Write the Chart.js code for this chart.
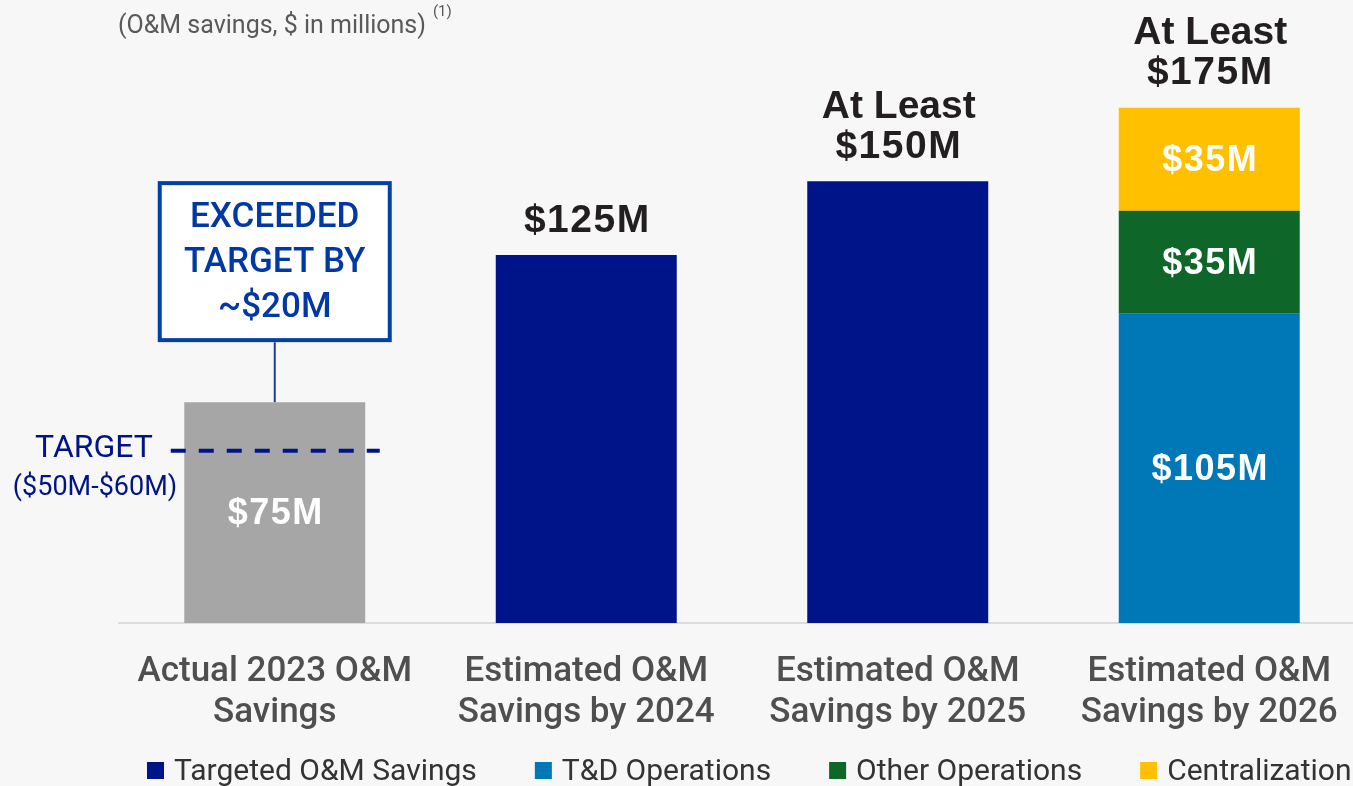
<!DOCTYPE html>
<html><head><meta charset="utf-8">
<script src="https://cdn.jsdelivr.net/npm/chart.js@4.4.1/dist/chart.umd.min.js"></script>
<style>
html,body{margin:0;padding:0;background:#f7f7f7;overflow:hidden;width:1353px;height:786px;}
#wrap{position:absolute;left:0;top:0;width:1370px;height:786px;}
canvas{display:block;}
</style></head><body>
<div id="wrap"><canvas id="c" width="1370" height="786"></canvas></div>
<script>
// ---- data ----
const categories = [["Actual 2023 O&M","Savings"],["Estimated O&M","Savings by 2024"],["Estimated O&M","Savings by 2025"],["Estimated O&M","Savings by 2026"]];
const actualSavings   = [75, null, null, null];
const targetedSavings = [null, 125, 150, null];
const tdOperations    = [null, null, null, 105];
const otherOperations = [null, null, null, 35];
const centralization  = [null, null, null, 35];
const totalLabels = [null, ["$125M"], ["At Least","$150M"], ["At Least","$175M"]];
const targetValue = 58.5;           // dashed target marker (range $50M-$60M)
const targetLabels = ["TARGET", "($50M-$60M)"];
const calloutLines = ["EXCEEDED", "TARGET BY", "~$20M"];
const subtitle = "(O&M savings, $ in millions)";
const yMax = 200;

const FONT_SANS = '"Liberation Sans", Arial, sans-serif';
const FONT_UI = 'Roboto, "Liberation Sans", sans-serif';

const annot = {
  id: 'annot',
  afterDatasetsDraw(chart) {
    const ctx = chart.ctx, xs = chart.scales.x, ys = chart.scales.y;
    ctx.save();
    // inside value labels
    chart.data.datasets.forEach((ds, i) => {
      if (!ds.insideLabel) return;
      const meta = chart.getDatasetMeta(i);
      meta.data.forEach((el, j) => {
        const v = ds.data[j];
        if (v == null) return;
        ctx.fillStyle = '#ffffff';
        ctx.font = 'bold 36px ' + FONT_SANS;
        ctx.letterSpacing = '1.5px';
        ctx.textAlign = 'center';
        ctx.textBaseline = 'middle';
        ctx.fillText('$' + v + 'M', el.x + 1, (el.y + el.base) / 2 + 2);
      });
    });
    // total labels above bars
    categories.forEach((c, j) => {
      const lines = totalLabels[j];
      if (!lines) return;
      let sum = 0;
      chart.data.datasets.forEach(ds => { if (ds.data[j] != null) sum += ds.data[j]; });
      const top = ys.getPixelForValue(sum);
      const x = xs.getPixelForValue(j);
      ctx.fillStyle = '#231f20';
      ctx.textAlign = 'center';
      ctx.textBaseline = 'middle';
      const n = lines.length;
      lines.forEach((t, k) => {
        ctx.font = 'bold 39px ' + FONT_SANS;
        ctx.letterSpacing = t.startsWith('$') ? '1.5px' : '0px';
        ctx.fillText(t, x + 1, top - 34 - (n - 1 - k) * 40);
      });
    });
    ctx.letterSpacing = '0px';
    // target dashed line on first bar
    const x0 = xs.getPixelForValue(0);
    const yT = ys.getPixelForValue(targetValue);
    ctx.strokeStyle = '#001489';
    ctx.lineWidth = 4;
    ctx.setLineDash([15, 13]);
    ctx.beginPath();
    ctx.moveTo(x0 - 104, yT);
    ctx.lineTo(x0 + 105, yT);
    ctx.stroke();
    ctx.setLineDash([]);
    ctx.fillStyle = '#001489';
    ctx.textAlign = 'center';
    ctx.textBaseline = 'middle';
    ctx.font = '32px ' + FONT_UI;
    ctx.fillText(targetLabels[0], 94, yT - 2);
    ctx.font = '27px ' + FONT_UI;
    ctx.fillText(targetLabels[1], 95, yT + 38);
    // callout box
    const barTop = ys.getPixelForValue(actualSavings[0]);
    const boxBottom = barTop - 60, boxTop = boxBottom - 161;
    ctx.strokeStyle = '#1f3d8f';
    ctx.lineWidth = 2;
    ctx.beginPath();
    ctx.moveTo(x0, boxBottom);
    ctx.lineTo(x0, barTop);
    ctx.stroke();
    ctx.fillStyle = '#ffffff';
    ctx.fillRect(x0 - 117, boxTop, 234, 161);
    ctx.strokeStyle = '#0041a8';
    ctx.lineWidth = 4;
    ctx.strokeRect(x0 - 115, boxTop + 2, 230, 157);
    ctx.fillStyle = '#0039a6';
    ctx.font = '500 35px ' + FONT_UI;
    calloutLines.forEach((t, k) => ctx.fillText(t, x0, boxTop + 37 + k * 45));
    ctx.restore();
  },
  afterDraw(chart) {
    const ctx = chart.ctx;
    ctx.save();
    // subtitle
    ctx.fillStyle = '#595959';
    ctx.textAlign = 'left';
    ctx.textBaseline = 'middle';
    ctx.font = '25px ' + FONT_UI;
    ctx.fillText(subtitle, 118, 27);
    const w = ctx.measureText(subtitle).width;
    ctx.font = '15px ' + FONT_UI;
    ctx.fillText('(1)', 118 + w + 7, 12);
    // legend
    ctx.font = '30px ' + FONT_UI;
    let x = 147;
    chart.data.datasets.forEach(ds => {
      if (!ds.inLegend) return;
      ctx.fillStyle = ds.backgroundColor;
      ctx.fillRect(x, 762, 17, 17);
      ctx.fillStyle = '#333333';
      ctx.fillText(ds.label, x + 27, 772);
      x += 27 + ctx.measureText(ds.label).width + 58;
    });
    ctx.restore();
  }
};

function build() {
  new Chart(document.getElementById('c'), {
    type: 'bar',
    data: {
      labels: categories,
      datasets: [
        { label: 'Actual 2023 O&M Savings', data: actualSavings, backgroundColor: '#a6a6a6', inLegend: false, insideLabel: true },
        { label: 'Targeted O&M Savings', data: targetedSavings, backgroundColor: '#001489', inLegend: true, insideLabel: false },
        { label: 'T&D Operations', data: tdOperations, backgroundColor: '#0077b6', inLegend: true, insideLabel: true },
        { label: 'Other Operations', data: otherOperations, backgroundColor: '#0e6629', inLegend: true, insideLabel: true },
        { label: 'Centralization', data: centralization, backgroundColor: '#ffc000', inLegend: true, insideLabel: true }
      ]
    },
    options: {
      responsive: false,
      animation: false,
      layout: { padding: { left: 119, right: 5, top: 34, bottom: 0 } },
      datasets: { bar: { barPercentage: 0.581, categoryPercentage: 1, borderWidth: 0 } },
      plugins: { legend: { display: false }, tooltip: { enabled: false } },
      scales: {
        x: {
          stacked: true,
          afterFit: s => { s.height = 163; },
          grid: { display: false },
          border: { display: true, color: '#dcdcdc', width: 2 },
          ticks: { color: '#4f4f4f', padding: 21, font: { family: FONT_UI, size: 35, weight: '500', lineHeight: 1.16 } }
        },
        y: {
          stacked: true, display: false, min: 0, max: yMax
        }
      }
    },
    plugins: [annot]
  });
}
Promise.all([
  document.fonts.load('500 35px Roboto'),
  document.fonts.load('30px Roboto'),
  document.fonts.load('bold 36px "Liberation Sans"')
]).then(build, build);
</script>
</body></html>
